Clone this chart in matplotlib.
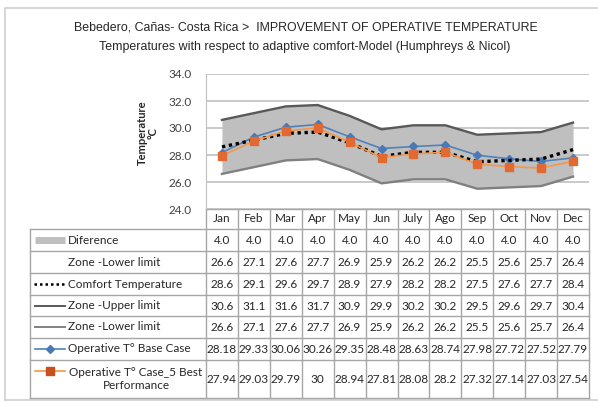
import matplotlib
matplotlib.use("Agg")
import matplotlib.pyplot as plt
import numpy as np

# datos
months = ['Jan', 'Feb', 'Mar', 'Apr', 'May', 'Jun', 'July', 'Ago', 'Sep', 'Oct', 'Nov', 'Dec']
diference = [4.0, 4.0, 4.0, 4.0, 4.0, 4.0, 4.0, 4.0, 4.0, 4.0, 4.0, 4.0]
zone_lower = [26.6, 27.1, 27.6, 27.7, 26.9, 25.9, 26.2, 26.2, 25.5, 25.6, 25.7, 26.4]
comfort = [28.6, 29.1, 29.6, 29.7, 28.9, 27.9, 28.2, 28.2, 27.5, 27.6, 27.7, 28.4]
zone_upper = [30.6, 31.1, 31.6, 31.7, 30.9, 29.9, 30.2, 30.2, 29.5, 29.6, 29.7, 30.4]
base_case = [28.18, 29.33, 30.06, 30.26, 29.35, 28.48, 28.63, 28.74, 27.98, 27.72, 27.52, 27.79]
case5 = [27.94, 29.03, 29.79, 30, 28.94, 27.81, 28.08, 28.2, 27.32, 27.14, 27.03, 27.54]
yticks = [24.0, 26.0, 28.0, 30.0, 32.0, 34.0]

row_labels = ['Diference', 'Zone -Lower limit', 'Comfort Temperature', 'Zone -Upper limit',
              'Zone -Lower limit', 'Operative T\u00b0 Base Case', 'Operative T\u00b0 Case_5 Best\nPerformance']

W, H = 598, 401
fig = plt.figure(figsize=(W / 100, H / 100), dpi=100)

# capa de fondo en pixeles para marco y tabla
bg = fig.add_axes([0, 0, 1, 1], zorder=0)
bg.set_xlim(0, W)
bg.set_ylim(H, 0)
bg.axis('off')

# marco exterior
bg.plot([5, 5, 600], [401, 8, 8], color='#d0d0d0', lw=1.2)
bg.plot([5, 600], [400, 400], color='#d0d0d0', lw=1.2)

title_font = ['Liberation Sans Narrow', 'Liberation Sans', 'DejaVu Sans']
bg.text(306, 28, 'Bebedero, Ca\u00f1as- Costa Rica >  IMPROVEMENT OF OPERATIVE TEMPERATURE',
        ha='center', va='center', fontsize=8.9, family=title_font, color='#262626')
bg.text(305, 47, 'Temperatures with respect to adaptive comfort-Model (Humphreys & Nicol)',
        ha='center', va='center', fontsize=8.9, family=title_font, color='#262626')

# area del grafico
x0, x1 = 206, 589
ytop, ybot = 74, 209
ax = fig.add_axes([x0 / W, 1 - ybot / H, (x1 - x0) / W, (ybot - ytop) / H], zorder=2)
ax.patch.set_alpha(0)
x = np.arange(len(months))
lo = np.array(zone_lower)
ax.fill_between(x, lo, lo + np.array(diference), color='#bfbfbf', lw=0, zorder=1)
ax.plot(x, zone_upper, color='#595959', lw=1.7, zorder=3)
ax.plot(x, zone_lower, color='#808080', lw=1.7, zorder=3)
ax.plot(x, base_case, color='#4f81bd', lw=1.2, marker='D', ms=4.5, mfc='#4a7ab5', mec='#4a7ab5', zorder=4)
ax.plot(x, comfort, color='black', lw=2.4, ls=(0, (1, 1.1)), zorder=5)
ax.plot(x, case5, color='#f79646', lw=1.2, marker='s', ms=6, mfc='#e06a32', mec='#e06a32', zorder=6)

ax.set_xlim(-0.5, len(months) - 0.5)
ax.set_ylim(24, 34)
ax.set_yticks(yticks)
ax.set_yticklabels([f'{t:.1f}' for t in yticks], family='Lato', fontsize=8.5, color='#404040')
ax.set_xticks([])
ax.tick_params(axis='y', length=0, pad=10)
ax.yaxis.grid(True, color='#c0c0c0', lw=1.2)
ax.set_axisbelow(True)
for s in ['top', 'right', 'bottom']:
    ax.spines[s].set_visible(False)
ax.spines['left'].set_color('#c0c0c0')

bg.text(142, 133, 'Temperature', rotation=90, ha='center', va='center', fontsize=8,
        family='Lato', fontweight='bold', color='#262626')
bg.text(153, 133, '\u00b0C', rotation=90, ha='center', va='center', fontsize=8,
        family='Lato', fontweight='bold', color='#262626')

# tabla de datos
tl = 30
colw = (x1 - x0) / len(months)
rows_y = [209, 229, 251, 273, 295, 316, 338, 360, 398]
grid_c = '#a6a6a6'
tfont = dict(family='Lato', color='#262626')

# cabecera
bg.plot([x0, x1], [rows_y[0], rows_y[0]], color=grid_c, lw=1)
for i, m in enumerate(months):
    bg.text(x0 + colw * (i + 0.5), (rows_y[0] + rows_y[1]) / 2, m, ha='center', va='center',
            fontsize=8.5, **tfont)
for yy in rows_y[1:]:
    bg.plot([tl, x1], [yy, yy], color=grid_c, lw=1)
bg.plot([tl, tl], [rows_y[1], rows_y[-1]], color=grid_c, lw=1)
for i in range(len(months) + 1):
    bg.plot([x0 + colw * i] * 2, [rows_y[0], rows_y[-1]], color=grid_c, lw=1)

table_rows = [
    [f'{v:.1f}' for v in diference],
    [f'{v:.1f}' for v in zone_lower],
    [f'{v:.1f}' for v in comfort],
    [f'{v:.1f}' for v in zone_upper],
    [f'{v:.1f}' for v in zone_lower],
    [f'{v:g}' for v in base_case],
    [f'{v:g}' for v in case5],
]
for r, vals in enumerate(table_rows):
    yc = (rows_y[r + 1] + rows_y[r + 2]) / 2
    for i, v in enumerate(vals):
        bg.text(x0 + colw * (i + 0.5), yc + 0.5, v, ha='center', va='center', fontsize=8.5, **tfont)
    if r < 6:
        bg.text(68, yc, row_labels[r], ha='left', va='center', fontsize=8.5, **tfont)
    else:
        bg.text(136, yc, row_labels[r], ha='center', va='center', fontsize=8.5,
                linespacing=1.3, **tfont)

# simbolos de leyenda
def ycen(r):
    return (rows_y[r + 1] + rows_y[r + 2]) / 2

bg.plot([35, 65], [ycen(0)] * 2, color='#bfbfbf', lw=5, solid_capstyle='butt')
bg.plot([34, 64], [ycen(2)] * 2, color='black', lw=1.8, ls=(0, (1, 1.2)))
bg.plot([35, 65], [ycen(3)] * 2, color='#595959', lw=1.4)
bg.plot([35, 65], [ycen(4)] * 2, color='#808080', lw=1.4)
bg.plot([35, 65], [ycen(5)] * 2, color='#4f81bd', lw=1.2)
bg.plot([50], [ycen(5)], marker='D', ms=4, color='#4a7ab5')
bg.plot([35, 65], [ycen(6) - 8] * 2, color='#f79646', lw=1.2)
bg.plot([50], [ycen(6) - 8], marker='s', ms=6, color='#c8501e')

fig.savefig('out.png', dpi=100)
